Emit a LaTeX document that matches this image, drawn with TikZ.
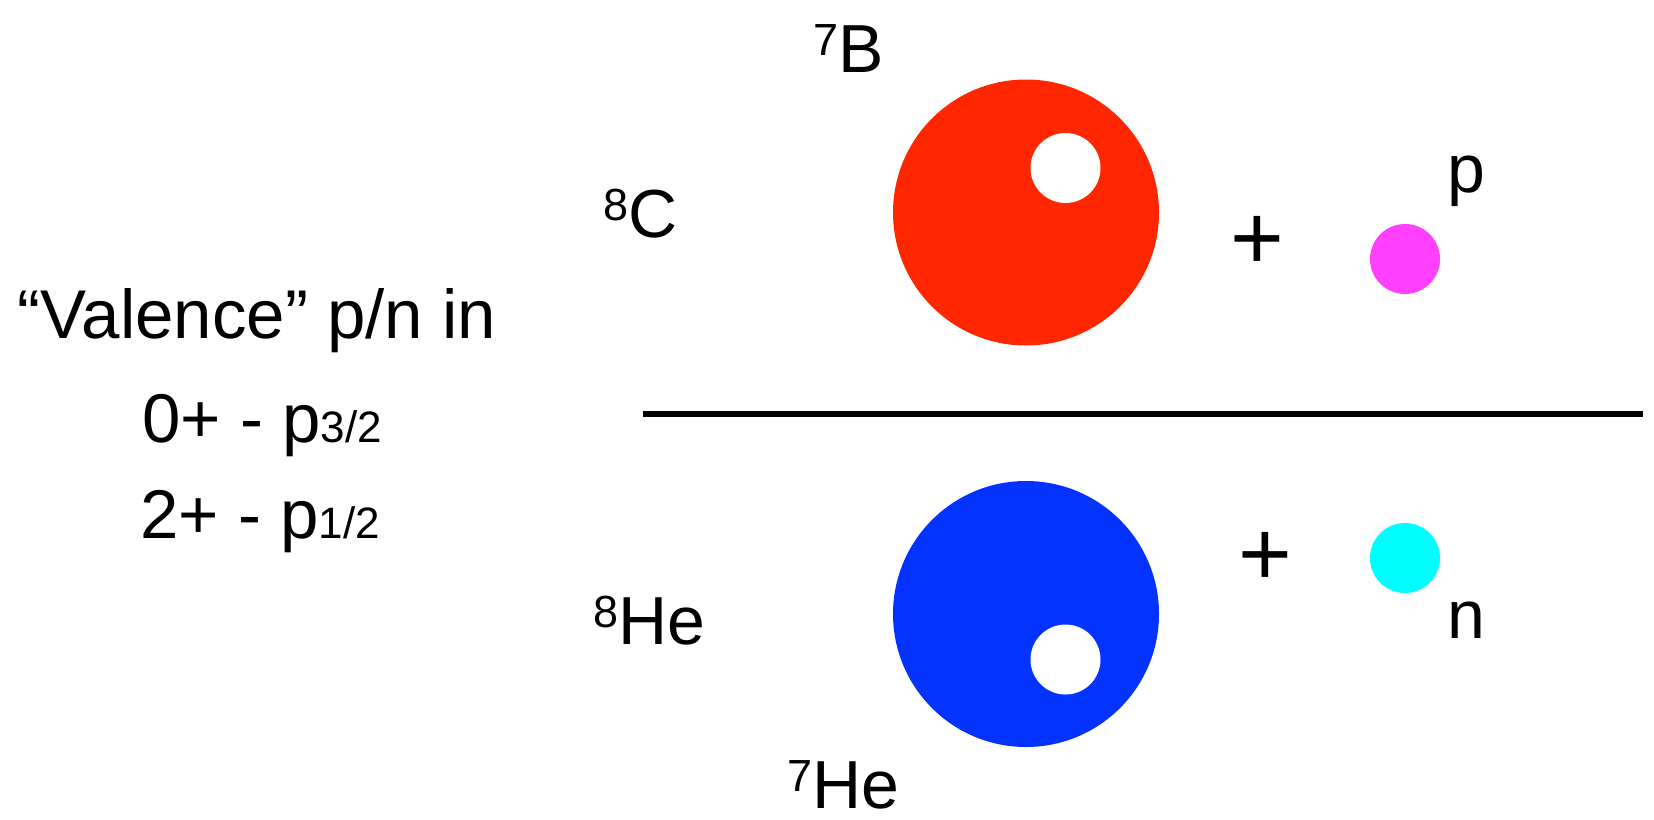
\documentclass[tikz,border=0pt]{standalone}
\usepackage{fontspec}
\setmainfont{Liberation Sans}
\usetikzlibrary{positioning}
\definecolor{nucred}{RGB}{255,38,0}
\definecolor{nucblue}{RGB}{4,51,255}
\definecolor{protmag}{RGB}{255,64,255}
\definecolor{neutcyan}{RGB}{0,253,255}
\newcommand{\iso}[2]{\raisebox{16.5pt}{\fontsize{45}{45}\selectfont #1}#2}
\newcommand{\jsub}[1]{{\fontsize{44}{44}\selectfont #1}}

\begin{document}
\begin{tikzpicture}[x=1pt,y=-1pt,
  core/.style={circle,inner sep=0pt,minimum size=266pt},
  hole/.style={circle,fill=white,inner sep=0pt,minimum size=70pt},
  dot/.style={circle,inner sep=0pt,minimum size=70pt},
  lbl/.style={inner sep=0pt,anchor=base west,font=\fontsize{68}{80}\selectfont},
  txt/.style={inner sep=0pt,anchor=base,font=\fontsize{69}{80}\selectfont},
  plus/.style={inner sep=0pt,font=\fontsize{92}{92}\selectfont}
]
  \useasboundingbox (0,0) rectangle (1654,819);

  % left text
  \node[txt] (val) at (257,338) {“Valence” p/n in};
  \node[txt] (st0) at (262,442) {0+ - p\jsub{3/2}};
  \node[txt] (st2) at (260,538) {2+ - p\jsub{1/2}};

  % upper: 8C -> 7B + p
  \node[core,fill=nucred] (b7) at (1026,212.5) {};
  \node[hole] (bh) at (1065.5,168) {};
  \node[plus] (plusp) at (1257,243) {+};
  \node[dot,fill=protmag] (prot) at (1405,259) {};
  \node[lbl] (lb7) at (813,72) {\iso{7}{B}};
  \node[lbl] (lc8) at (603,237) {\iso{8}{C}};
  \node[lbl] (lp) at (1447,192) {p};

  % separator
  \coordinate (sepl) at (643,414);
  \coordinate (sepr) at (1643,414);
  \draw[line width=5.5pt] (sepl) -- (sepr);

  % lower: 8He -> 7He + n
  \node[core,fill=nucblue] (he7) at (1026,614) {};
  \node[hole] (heh) at (1065.5,659.5) {};
  \node[plus] (plusn) at (1265,559) {+};
  \node[dot,fill=neutcyan] (neut) at (1405,558) {};
  \node[lbl] (lhe8) at (593,644) {\iso{8}{He}};
  \node[lbl] (lhe7) at (787,808) {\iso{7}{He}};
  \node[lbl] (ln) at (1447,638) {n};
\end{tikzpicture}
\end{document}
